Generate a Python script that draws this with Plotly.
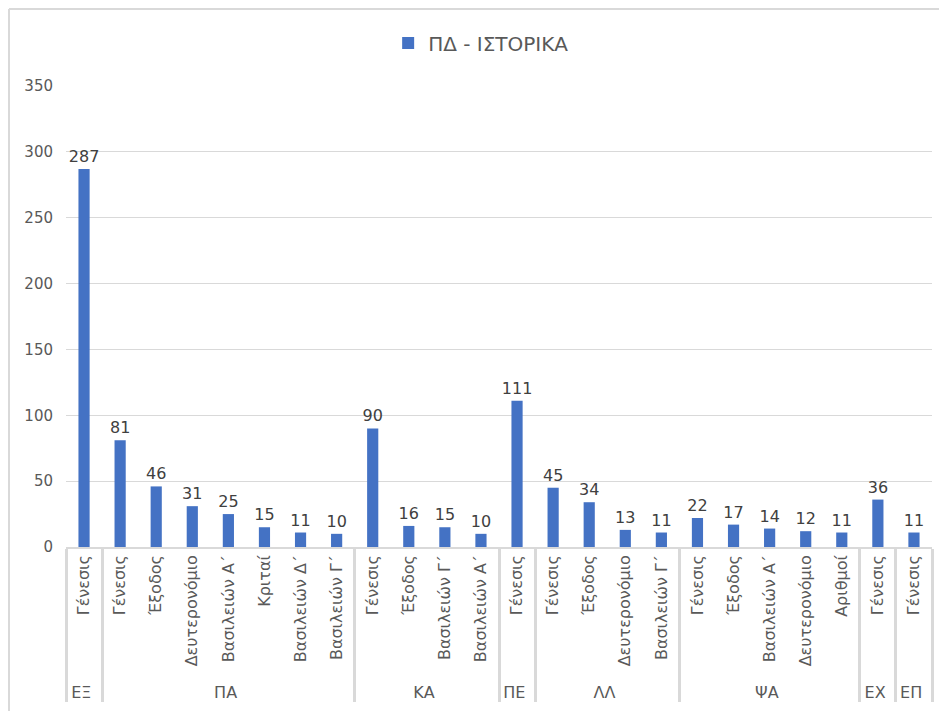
import plotly.graph_objects as go

groups = ["ΕΞ",
          "ΠΑ", "ΠΑ", "ΠΑ", "ΠΑ", "ΠΑ", "ΠΑ", "ΠΑ",
          "ΚΑ", "ΚΑ", "ΚΑ", "ΚΑ",
          "ΠΕ",
          "ΛΛ", "ΛΛ", "ΛΛ", "ΛΛ",
          "ΨΑ", "ΨΑ", "ΨΑ", "ΨΑ", "ΨΑ",
          "ΕΧ",
          "ΕΠ"]
books = ["Γένεσις",
         "Γένεσις", "Έξοδος", "Δευτερονόμιο", "Βασιλειών Α΄", "Κριταί", "Βασιλειών Δ΄", "Βασιλειών Γ΄",
         "Γένεσις", "Έξοδος", "Βασιλειών Γ΄", "Βασιλειών Α΄",
         "Γένεσις",
         "Γένεσις", "Έξοδος", "Δευτερονόμιο", "Βασιλειών Γ΄",
         "Γένεσις", "Έξοδος", "Βασιλειών Α΄", "Δευτερονόμιο", "Αριθμοί",
         "Γένεσις",
         "Γένεσις"]
values = [287,
          81, 46, 31, 25, 15, 11, 10,
          90, 16, 15, 10,
          111,
          45, 34, 13, 11,
          22, 17, 14, 12, 11,
          36,
          11]
y_ticks = [0, 50, 100, 150, 200, 250, 300, 350]

# Plotly orders inner categories of a multicategory axis by their first
# appearance across all groups; an invisible zero-width suffix per group keeps
# the original per-group order.
group_order = list(dict.fromkeys(groups))
inner_keys = [b + "\u200b" * group_order.index(g) for g, b in zip(groups, books)]

FONT = "DejaVu Sans, Open Sans, sans-serif"

# page body has an 8px default margin, so the figure is offset by 8px
W, H = 939, 703
ML, MR, MT, MB = 58, 15, 78, 164
plot_w = W - ML - MR
plot_h = H - MT - MB

fig = go.Figure()
fig.add_trace(go.Bar(
    x=[groups, inner_keys],
    y=values,
    name="ΠΔ - ΙΣΤΟΡΙΚΑ",
    marker=dict(color="#4472C4", line=dict(width=0)),
    text=values,
    textposition="outside",
    constraintext="none",
    cliponaxis=False,
    textfont=dict(family=FONT, size=16, color="#404040"),
    showlegend=True,
))

fig.update_layout(
    width=W, height=H,
    margin=dict(l=ML, r=MR, t=MT, b=MB, autoexpand=False),
    paper_bgcolor="white",
    plot_bgcolor="white",
    bargap=0.69,
    font=dict(family=FONT, color="#595959"),
    showlegend=True,
    legend=dict(orientation="h", x=0.372, xanchor="left",
                y=1 + 43 / plot_h, yanchor="middle",
                font=dict(size=20, color="#595959"),
                itemwidth=30),
    xaxis=dict(
        type="multicategory",
        tickangle=-90,
        tickfont=dict(family=FONT, size=16, color="#595959"),
        showline=True, linecolor="#D9D9D9", linewidth=1.5,
        showdividers=True, dividercolor="#D9D9D9", dividerwidth=2.5,
        ticks="",
        showgrid=False,
        automargin=False,
        range=[-0.5, len(values) - 0.5],
    ),
    yaxis=dict(
        range=[0, 350],
        tickvals=y_ticks,
        tickfont=dict(family=FONT, size=15, color="#595959"),
        showgrid=True, gridcolor="#D9D9D9", gridwidth=1,
        zeroline=False,
        automargin=False,
        ticklabelstandoff=12,
    ),
    shapes=[dict(type="line", xref="paper", yref="paper",
                 x0=-(ML - 1) / plot_w, x1=1 + MR / plot_w,
                 y0=1 + (MT - 1) / plot_h, y1=1 + (MT - 1) / plot_h,
                 line=dict(color="#D9D9D9", width=2)),
            dict(type="line", xref="paper", yref="paper",
                 x0=-(ML - 1) / plot_w, x1=-(ML - 1) / plot_w,
                 y0=1 + (MT - 1) / plot_h, y1=-MB / plot_h,
                 line=dict(color="#D9D9D9", width=2))],
)

fig.write_html("out.html")
